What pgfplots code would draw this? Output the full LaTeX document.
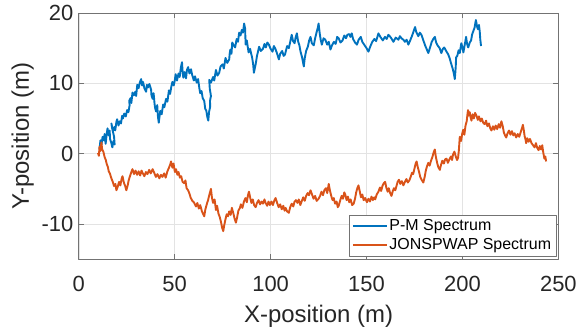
\documentclass[border=0pt]{standalone}
\usepackage{fontspec}
\setmainfont{Liberation Sans}
\usepackage{pgfplots}
\pgfplotsset{compat=1.18}
\definecolor{mblue}{rgb}{0,0.447,0.741}
\definecolor{morange}{rgb}{0.85,0.325,0.098}
\definecolor{mtext}{rgb}{0.15,0.15,0.15}
\begin{document}
\begin{tikzpicture}
\begin{axis}[
  scale only axis, width=481pt, height=247pt,
  xmin=0, xmax=250, ymin=-15, ymax=20,
  xtick={0,50,100,150,200,250}, ytick={-10,0,10,20},
  /pgf/number format/assume math mode=true,
  ticklabel style={font=\fontsize{22}{26}\selectfont, text=mtext},
  xticklabel style={anchor=base, yshift=-32pt},
  yticklabel style={xshift=-2pt},
  grid=major, major grid style={gray!22, line width=0.5pt},
  axis line style={black!55, line width=0.6pt},
  tick align=inside, tick pos=both, major tick length=5pt,
  tick style={black!55, line width=0.6pt},
  xlabel={X-position (m)}, ylabel={Y-position (m)},
  label style={font=\fontsize{24}{28}\selectfont, text=mtext},
  xlabel style={at={(axis description cs:0.5,-0.255)}, anchor=base},
  ylabel style={at={(axis description cs:-0.104,0.5)}, anchor=base},
  legend style={at={(rel axis cs:1,0)}, anchor=south east, xshift=-2pt, yshift=3pt,
    font=\fontsize{16}{19}\selectfont, draw=black!55, line width=0.6pt, text=black,
    inner xsep=3pt, inner ysep=2.5pt, row sep=2.5pt},
  legend cell align=left,
  legend image code/.code={\draw[#1, line width=1.5pt] (0pt,0pt) -- (34pt,0pt);},
  line join=round,
]
\coordinate (SW) at (rel axis cs:0,0);
\coordinate (NE) at (rel axis cs:1,1);
\addplot[mblue, line width=1.9pt] table {
10.8 0.6
11.3 1.9
11.8 1.2
12.4 2.4
13.0 1.9
13.5 2.8
14.0 1.4
14.6 2.9
15.0 3.6
15.6 2.6
16.1 3.3
16.3 2.1
16.9 1.6
17.5 0.9
18.1 1.8
18.7 1.3
18.4 2.4
18.0 2.9
17.4 3.6
17.0 4.3
17.8 3.2
18.6 3.8
19.0 3.3
19.6 4.5
20.0 4.9
20.7 4.0
21.3 4.6
22.0 4.3
22.6 5.4
23.0 5.0
23.7 5.7
24.5 5.3
25.2 6.2
25.9 5.9
26.5 6.9
26.3 7.5
27.0 7.9
27.4 7.2
28.0 8.7
28.7 8.3
29.5 8.8
29.9 8.2
30.5 9.8
31.2 9.3
31.8 10.1
32.5 10.6
33.0 9.7
33.5 10.2
34.2 9.3
35.1 8.8
35.5 9.8
36.0 9.4
36.8 9.9
37.7 9.1
37.9 8.3
38.5 7.8
39.0 8.6
39.5 7.1
39.8 6.5
40.3 6.0
40.9 6.9
41.3 5.2
41.7 4.4
42.1 5.3
42.5 6.1
43.2 5.6
44.0 7.0
44.6 6.6
45.5 7.8
46.2 7.4
47.0 9.0
47.6 8.5
48.3 9.6
48.8 10.2
49.5 9.7
50.1 10.5
50.5 11.3
51.2 10.4
52.0 11.4
52.6 10.9
53.2 12.2
53.8 13.0
54.1 11.8
54.5 10.8
55.2 11.6
55.9 10.7
56.4 11.9
57.0 12.3
57.7 11.4
58.5 12.0
59.1 11.2
60.0 10.4
60.6 11.0
61.5 10.1
62.2 10.6
62.8 9.4
63.3 8.6
64.0 8.9
64.6 7.9
65.4 7.5
65.9 6.4
66.5 6.1
67.0 5.2
67.5 4.7
67.9 5.9
68.5 6.7
68.4 7.5
68.9 8.2
68.3 9.2
68.0 10.5
68.9 10.1
70.0 10.9
70.6 10.4
71.5 11.9
72.3 11.1
73.2 11.5
73.9 12.4
75.0 12.7
75.6 12.1
76.5 13.6
77.4 12.9
78.4 13.4
78.7 14.3
79.0 14.8
79.6 14.2
80.0 15.8
80.7 15.4
81.5 15.1
82.3 16.3
83.0 15.9
83.6 17.2
84.3 16.8
85.0 17.6
85.6 17.2
86.2 18.5
86.7 17.8
86.8 16.9
87.0 15.5
87.6 16.1
88.5 14.4
89.3 14.9
90.4 13.6
90.9 12.7
91.3 11.5
91.8 12.2
92.2 12.7
92.9 13.9
93.5 14.6
94.0 15.2
94.9 14.6
96.0 14.9
96.8 15.6
97.5 15.1
98.3 15.8
99.1 15.5
100.0 14.9
101.0 14.5
101.7 15.3
102.5 14.9
103.4 14.2
104.3 13.4
105.0 14.2
106.0 14.6
106.8 13.9
107.5 14.1
108.6 15.3
109.5 15.0
110.3 16.0
111.0 16.9
111.7 16.0
112.5 15.7
113.1 16.6
113.7 17.1
114.3 16.0
115.0 15.4
115.6 14.5
116.4 13.7
117.3 12.4
117.8 13.6
118.5 14.6
119.4 15.2
120.1 16.1
120.8 16.6
121.5 15.7
122.5 15.4
123.2 16.4
124.0 17.3
124.6 17.9
125.0 18.5
125.6 17.1
126.1 16.2
126.7 15.5
127.6 16.4
128.5 16.2
129.5 15.5
130.3 15.9
131.2 14.8
132.0 15.4
133.0 15.9
133.9 15.6
134.7 16.6
135.5 16.4
136.4 15.8
137.5 16.1
138.4 16.8
139.3 16.4
140.0 16.9
141.0 17.0
141.6 16.6
142.3 17.1
143.0 16.3
144.0 15.8
145.0 15.5
145.9 16.2
147.0 16.6
147.8 15.9
149.0 15.4
150.0 15.0
151.0 14.5
151.9 15.2
153.0 15.9
154.1 16.3
155.0 16.0
156.2 17.1
157.2 16.6
158.5 16.1
159.6 16.6
160.5 16.3
161.4 16.9
162.7 16.5
164.0 15.9
165.2 16.5
166.6 16.2
167.4 16.7
168.2 16.4
169.2 16.2
170.0 15.9
170.9 16.2
171.8 15.5
172.6 16.0
173.5 16.6
174.3 17.2
175.3 18.0
175.9 17.3
177.0 16.7
177.8 17.2
178.6 16.9
179.5 16.2
180.5 15.4
181.3 14.9
182.2 14.3
183.0 15.0
184.0 15.9
184.8 16.3
185.6 16.6
186.3 15.8
187.0 15.4
188.1 15.0
189.0 14.3
189.8 14.9
190.5 15.1
191.5 14.6
192.6 14.1
193.4 13.5
194.1 12.8
194.8 12.2
195.5 11.4
196.0 10.6
196.2 11.2
196.5 12.4
196.7 13.7
197.3 13.9
198.0 14.7
198.6 14.3
199.4 15.7
200.0 15.1
200.5 14.4
201.2 15.5
201.9 16.6
202.4 15.6
203.0 15.1
203.8 15.8
204.5 16.1
205.0 16.9
205.5 17.3
206.3 17.9
207.0 19.0
207.6 18.1
208.0 17.7
208.6 18.3
209.0 17.4
209.3 16.2
209.7 15.3
};
\addlegendentry{P-M Spectrum}
\addplot[morange, line width=1.9pt] table {
10.0 0.1
10.5 -0.3
10.8 1.0
11.3 0.4
11.8 1.6
12.2 0.6
12.8 0.3
13.5 -0.5
14.1 -0.9
14.6 -1.5
15.2 -1.9
15.6 -2.5
16.2 -2.8
17.0 -3.5
17.6 -3.9
18.4 -4.6
19.1 -4.3
19.6 -5.2
20.3 -4.7
21.0 -4.0
21.7 -4.5
22.3 -3.6
22.8 -3.2
23.5 -4.1
24.2 -4.6
24.8 -5.2
25.5 -4.5
26.0 -3.8
26.8 -3.1
27.4 -2.6
28.0 -2.2
28.8 -2.9
29.6 -2.4
30.4 -3.0
31.2 -2.5
32.0 -3.1
32.7 -2.4
33.4 -2.8
34.2 -3.2
35.0 -2.6
35.8 -2.9
36.7 -2.3
37.5 -2.8
38.5 -2.2
39.3 -2.7
40.2 -3.3
41.0 -2.9
42.0 -3.5
42.8 -3.0
43.6 -3.3
44.5 -2.8
45.3 -3.4
46.2 -2.5
47.0 -2.0
47.6 -1.6
48.1 -1.1
48.8 -2.0
49.4 -1.4
50.1 -2.6
50.7 -2.2
51.4 -3.0
52.0 -2.6
52.7 -3.4
53.4 -3.2
54.1 -4.0
55.0 -4.2
55.6 -3.8
56.2 -4.9
57.0 -5.2
57.6 -5.6
58.4 -6.3
59.2 -6.7
60.0 -6.9
61.1 -7.5
61.8 -7.0
62.6 -7.8
63.3 -7.3
64.2 -8.2
65.4 -8.9
66.0 -7.9
66.7 -7.2
67.4 -6.6
68.1 -5.8
68.9 -5.0
69.4 -6.2
70.0 -7.0
70.8 -6.5
71.5 -8.0
72.1 -7.4
72.8 -8.5
73.5 -9.0
74.2 -9.8
74.8 -10.6
75.3 -11.0
75.8 -10.2
76.4 -9.4
77.1 -8.6
77.8 -8.9
78.4 -8.2
79.2 -8.7
79.8 -7.7
80.5 -8.4
81.2 -9.2
81.9 -9.8
82.5 -9.1
83.2 -8.1
84.0 -7.7
84.5 -7.2
85.3 -7.7
86.1 -6.8
86.9 -6.3
87.6 -6.9
88.2 -5.9
88.7 -5.4
89.4 -6.3
90.0 -7.0
90.7 -6.5
91.4 -7.3
92.2 -7.6
92.9 -7.0
93.7 -6.6
94.5 -7.2
95.3 -6.8
96.0 -7.1
96.8 -6.5
97.4 -7.0
98.2 -7.4
98.9 -6.8
99.6 -7.3
100.4 -6.8
101.2 -7.3
102.0 -6.6
102.6 -6.3
103.4 -7.0
104.2 -7.6
105.0 -7.2
105.8 -7.9
106.6 -7.4
107.3 -8.1
107.8 -7.7
108.6 -8.2
109.5 -8.4
110.2 -7.6
111.0 -7.1
111.8 -7.5
112.5 -6.8
113.2 -6.6
114.0 -7.0
114.7 -6.5
115.5 -7.3
116.3 -6.7
117.0 -6.2
117.8 -6.7
118.5 -6.0
119.3 -5.6
120.0 -5.9
120.8 -5.2
121.6 -5.8
122.4 -6.4
123.2 -6.0
124.0 -6.7
125.0 -6.4
125.8 -6.0
126.5 -5.4
127.3 -5.9
128.0 -5.2
128.8 -4.9
129.5 -5.6
130.3 -4.3
130.9 -5.2
131.6 -6.0
132.3 -6.6
132.9 -6.3
133.6 -7.1
134.4 -6.8
135.0 -7.6
135.5 -7.4
136.2 -6.7
137.0 -6.0
137.7 -6.4
138.4 -5.5
138.9 -5.8
139.6 -6.6
140.3 -6.1
141.0 -6.9
141.7 -6.5
142.5 -7.3
143.3 -7.1
144.0 -6.4
144.6 -5.5
145.2 -4.9
145.8 -4.5
146.5 -5.4
147.1 -6.2
147.8 -5.8
148.5 -6.6
149.3 -6.3
150.2 -6.9
151.0 -6.4
151.8 -6.8
152.6 -6.1
153.3 -6.6
154.0 -6.2
154.5 -6.5
155.3 -5.8
156.2 -5.4
157.0 -4.8
157.6 -5.3
158.4 -4.5
159.0 -4.2
159.7 -4.0
160.3 -4.8
161.0 -5.4
161.6 -4.9
162.3 -5.6
163.0 -6.0
163.7 -5.3
164.3 -4.9
165.0 -5.2
165.6 -4.6
166.2 -4.0
166.9 -3.7
167.6 -4.3
168.4 -3.9
169.2 -4.5
170.0 -4.0
170.8 -3.6
171.5 -4.1
172.3 -3.8
173.0 -3.3
173.7 -2.7
174.3 -2.9
175.0 -2.1
175.6 -1.4
176.1 -1.1
176.7 -1.9
177.4 -2.6
178.0 -3.3
178.7 -3.7
179.6 -4.1
180.3 -3.3
180.9 -2.4
181.5 -1.8
182.2 -1.3
182.9 -1.7
183.6 -1.0
184.3 -0.5
185.0 0.2
185.6 0.6
186.1 -0.4
186.8 -1.3
187.4 -1.9
188.2 -2.3
188.8 -1.6
189.5 -1.0
190.3 -1.4
191.0 -0.8
191.7 -0.7
192.4 -1.3
193.2 -0.8
194.0 -0.4
194.6 -0.9
195.1 -0.1
195.8 0.3
196.5 -0.4
197.2 -0.9
197.7 -0.6
198.1 0.4
198.3 1.2
198.6 2.4
199.3 1.8
199.9 2.9
200.4 3.4
201.0 2.7
201.6 4.0
202.2 4.6
202.6 5.6
202.9 6.2
203.3 5.4
203.8 5.9
204.3 5.1
204.7 4.7
205.3 5.6
205.9 5.0
206.6 5.8
207.3 5.4
208.0 4.8
208.6 5.3
209.4 4.6
210.1 5.0
210.8 4.4
211.6 4.2
212.3 4.7
213.0 3.9
213.8 4.3
214.5 3.6
215.1 3.3
215.9 3.9
216.6 3.4
217.3 4.0
218.1 3.5
218.9 4.2
219.6 3.7
220.3 4.6
221.0 3.9
221.6 3.0
222.2 2.6
222.8 2.3
223.5 2.9
224.3 3.3
225.0 2.7
225.8 3.2
226.5 2.6
227.2 2.9
228.0 2.3
228.8 2.8
229.6 2.4
230.4 3.1
231.0 3.6
231.5 4.1
232.0 3.3
232.4 2.5
232.9 2.0
233.2 1.5
233.8 2.2
234.5 1.7
235.2 2.1
236.0 1.5
236.8 1.2
237.6 0.9
238.3 1.5
239.0 0.8
239.7 0.5
240.3 1.1
241.0 0.6
241.6 1.2
242.1 0.2
242.7 -0.7
243.2 -0.4
243.6 -1.1
};
\addlegendentry{JONSPWAP Spectrum}
\end{axis}
\path ([shift={(-79pt,-70pt)}]SW) rectangle ([shift={(20pt,13pt)}]NE);
\end{tikzpicture}
\end{document}
